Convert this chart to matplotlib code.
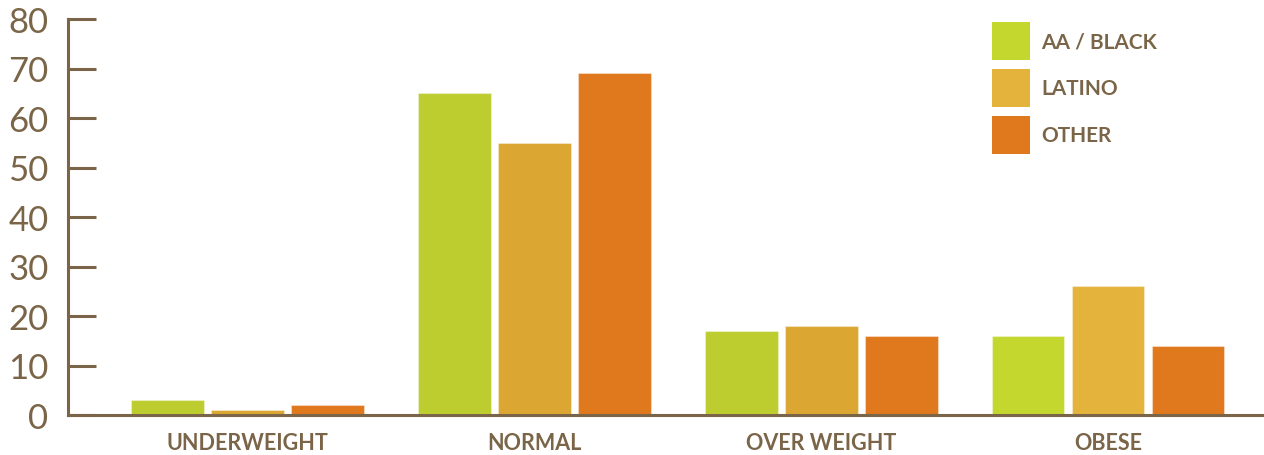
import numpy as np
import matplotlib
matplotlib.use("Agg")
from matplotlib import pyplot as plt
from matplotlib.patches import Patch

categories = ["UNDERWEIGHT", "NORMAL", "OVER WEIGHT", "OBESE"]
series_names = ["AA / BLACK", "LATINO", "OTHER"]
aa_black = [3, 65, 17, 16]
latino = [1, 55, 18, 26]
other = [2, 69, 16, 14]
y_ticks = [0, 10, 20, 30, 40, 50, 60, 70, 80]

text_col = "#7a6548"
bar_cols = [
    ["#bdcd2f", "#bdcd2f", "#bdcd2f", "#c3d72f"],
    ["#dba732", "#dba732", "#dba732", "#e4b33b"],
    ["#e0781e", "#e0781e", "#e0781e", "#e0781e"],
]
legend_cols = ["#c3d72f", "#e4b33b", "#e0781e"]

plt.rcParams["font.family"] = ["Lato", "DejaVu Sans"]

fig = plt.figure(figsize=(12.64, 4.56), dpi=100)
ax = fig.add_axes([68 / 1264, 40 / 456, 1194 / 1264, 396 / 456])

x = np.arange(len(categories))
width = 0.254
step = 0.279
for i, vals in enumerate([aa_black, latino, other]):
    ax.bar(x + (i - 1) * step, vals, width, color=bar_cols[i],
           edgecolor=(1, 1, 1, 0.35), linewidth=0.8, zorder=2)

ax.set_xlim(-0.627, 3.537)
ax.set_ylim(0, 80)

for s in ["top", "right"]:
    ax.spines[s].set_visible(False)
for s in ["left", "bottom"]:
    ax.spines[s].set_color(text_col)
    ax.spines[s].set_linewidth(2.2)

ax.set_yticks(y_ticks)
ax.set_yticklabels([str(t) for t in y_ticks])
ax.tick_params(axis="y", direction="in", length=20.5, width=2.2, color=text_col,
               labelcolor=text_col, labelsize=25, pad=14)
ax.set_xticks(x)
ax.set_xticklabels(categories)
ax.tick_params(axis="x", length=0, labelcolor=text_col, labelsize=15.5, pad=12)
for lbl in ax.get_xticklabels():
    lbl.set_fontweight("bold")

handles = [Patch(facecolor=c, edgecolor="none") for c in legend_cols]
leg = fig.legend(handles, series_names, loc="upper left",
                 bbox_to_anchor=(992 / 1264, 1 - 23 / 456), frameon=False,
                 fontsize=15, handlelength=1.824, handleheight=2.43,
                 labelspacing=0.43, handletextpad=0.53, borderpad=0,
                 borderaxespad=0)
for t in leg.get_texts():
    t.set_color(text_col)
    t.set_fontweight("bold")

fig.savefig("out.png", dpi=100)
